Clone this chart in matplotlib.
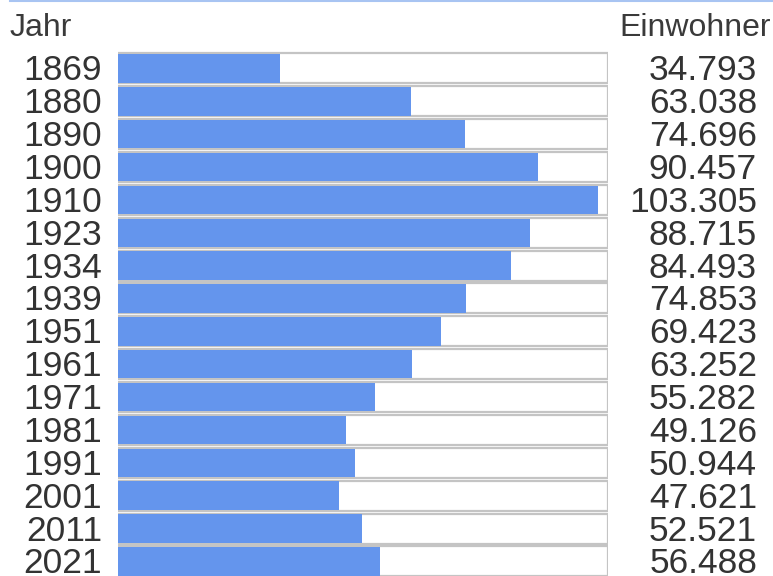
import matplotlib.pyplot as plt
from matplotlib.lines import Line2D

years = ["1869", "1880", "1890", "1900", "1910", "1923", "1934", "1939",
         "1951", "1961", "1971", "1981", "1991", "2001", "2011", "2021"]
population = [34793, 63038, 74696, 90457, 103305, 88715, 84493, 74853,
              69423, 63252, 55282, 49126, 50944, 47621, 52521, 56488]
header_left = "Jahr"
header_right = "Einwohner"


def fmt_de(v):
    return f"{v:,}".replace(",", ".")


W, H = 773, 576
fig = plt.figure(figsize=(W / 100, H / 100), dpi=100)
plt.rcParams['font.family'] = ['Liberation Sans', 'DejaVu Sans']

pitch = 32.87          # row height in px
first_center = 68.4    # px from top
ax_left, ax_right = 118, 608
xmax = 105457

ax = fig.add_axes([ax_left / W, 0, (ax_right - ax_left) / W, 1])
ax.set_xlim(0, xmax)
ax.set_ylim((H - first_center) / pitch, -first_center / pitch)
ax.axis('off')

rows = list(range(len(years)))
# cell frames
ax.barh(rows, [xmax] * len(rows), height=30 / pitch, left=0,
        color='white', edgecolor='#c4c4c4', linewidth=1.6, zorder=1)
# blue bars
ax.barh(rows, population, height=28.5 / pitch, left=0,
        color='#6495ed', edgecolor='none', zorder=2)

txt = '#333333'
base_off = 12.0  # baseline below row centre, px
for i, (y, v) in enumerate(zip(years, population)):
    ypos = 1 - (first_center + base_off + i * pitch) / H
    ax.text(102 / W, ypos, y, transform=fig.transFigure,
            ha='right', va='baseline', fontsize=25.5, color=txt)
    ax.text(757 / W, ypos, fmt_de(v), transform=fig.transFigure,
            ha='right', va='baseline', fontsize=25.5, color=txt)

fig.text(10 / W, 1 - 36 / H, header_left, ha='left', va='baseline',
         fontsize=23, color='#3a3a3a')
fig.text(771 / W, 1 - 36 / H, header_right, ha='right', va='baseline',
         fontsize=23, color='#3a3a3a')

fig.add_artist(Line2D([10 / W, 1], [1 - 0.8 / H, 1 - 0.8 / H],
                      transform=fig.transFigure, color='#a8c4f2', linewidth=1.5))

fig.savefig('out.png', dpi=100)
